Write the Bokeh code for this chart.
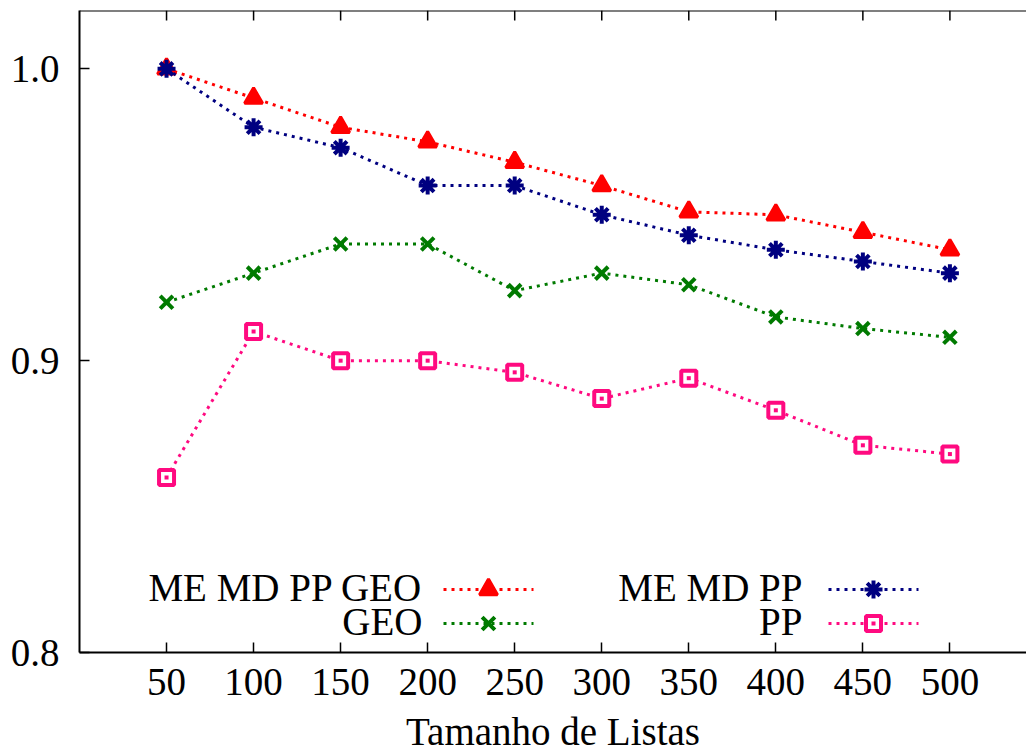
from bokeh.plotting import figure
from bokeh.models import Range1d, LinearAxis, FixedTicker, Label, Span
from bokeh.embed import file_html
from bokeh.resources import INLINE

# ---- data ----
sizes = [50, 100, 150, 200, 250, 300, 350, 400, 450, 500]
me_md_pp_geo = [1.000, 0.990, 0.980, 0.975, 0.968, 0.960, 0.951, 0.950, 0.944, 0.938]
me_md_pp = [1.000, 0.980, 0.973, 0.960, 0.960, 0.950, 0.943, 0.938, 0.934, 0.930]
geo = [0.920, 0.930, 0.940, 0.940, 0.924, 0.930, 0.926, 0.915, 0.911, 0.908]
pp = [0.860, 0.910, 0.900, 0.900, 0.896, 0.887, 0.894, 0.883, 0.871, 0.868]
x_ticks = [50, 100, 150, 200, 250, 300, 350, 400, 450, 500]
y_ticks = [0.8, 0.9, 1.0]
x_label = "Tamanho de Listas"

FONT = "Liberation Serif"
FS = "39px"
XMIN, XMAX = 0, 544
YMIN, YMAX = 0.8, 1.02
FRAME_L, FRAME_T = 79, 10
FRAME_W, FRAME_H = 947, 642

p = figure(width=FRAME_L + FRAME_W, height=745, x_range=Range1d(XMIN, XMAX), y_range=Range1d(YMIN, YMAX),
           output_backend="svg", toolbar_location=None, x_axis_location=None, y_axis_location=None,
           min_border_left=FRAME_L, min_border_right=0, min_border_top=FRAME_T, min_border_bottom=10,
           frame_width=FRAME_W, frame_height=FRAME_H)
p.outline_line_color = None
p.xgrid.visible = False
p.ygrid.visible = False
p.background_fill_color = "white"
p.border_fill_color = "white"


def style(ax):
    ax.axis_line_width = 2
    ax.axis_line_color = "black"
    ax.major_tick_in = 10
    ax.major_tick_out = 0
    ax.minor_tick_in = 0
    ax.minor_tick_out = 0
    ax.major_tick_line_width = 1.5
    ax.major_label_text_font = FONT
    ax.major_label_text_font_size = FS
    ax.major_label_text_color = "black"


left = LinearAxis(ticker=FixedTicker(ticks=y_ticks))
style(left)
left.major_label_standoff = 20
left.major_label_overrides = {0.8: "0.8", 0.9: "0.9", 1.0: "1.0"}
p.add_layout(left, "left")

bottom = LinearAxis(ticker=FixedTicker(ticks=x_ticks), axis_label=x_label)
style(bottom)
bottom.major_label_standoff = 16
bottom.axis_label_text_font = FONT
bottom.axis_label_text_font_size = FS
bottom.axis_label_text_font_style = "normal"
bottom.axis_label_text_color = "black"
bottom.axis_label_standoff = 12
p.add_layout(bottom, "below")

# top border with inward mirror ticks (no labels)
p.add_layout(Span(location=YMAX, dimension="width", line_color="black", line_width=2))
tick_len = 10 / FRAME_H * (YMAX - YMIN)
p.segment(x0=x_ticks, y0=[YMAX] * len(x_ticks), x1=x_ticks, y1=[YMAX - tick_len] * len(x_ticks),
          line_color="black", line_width=1.5)

DASH = "3 5"
series = [
    (me_md_pp_geo, "#ff0000", "triangle", 18, 3, "ME MD PP GEO"),
    (me_md_pp, "#000080", "asterisk", 18, 4, "ME MD PP"),
    (geo, "#007a00", "x", 18, 4, "GEO"),
    (pp, "#ff0a80", "square", 15, 4, "PP"),
]


def draw_markers(xs, ys, col, mk, sz, lw):
    if mk == "square":
        p.scatter(xs, ys, marker=mk, size=sz, line_color=col, line_width=lw, fill_color="white")
        p.scatter(xs, ys, marker="square", size=4, line_color=None, fill_color=col)
    elif mk == "triangle":
        p.scatter(xs, ys, marker=mk, size=sz, line_color=col, line_width=lw, fill_color=col)
    else:
        p.scatter(xs, ys, marker=mk, size=sz, line_color=col, line_width=lw)


for vals, col, mk, sz, lw, name in series:
    p.line(sizes, vals, line_color=col, line_width=3, line_dash=DASH)
    draw_markers(sizes, vals, col, mk, sz, lw)


# ---- legend (gnuplot style: right-aligned text, then sample) ----
def dx(px):
    return XMIN + (px - FRAME_L) / FRAME_W * (XMAX - XMIN)


def dy(py):
    return YMIN + (FRAME_T + FRAME_H - py) / FRAME_H * (YMAX - YMIN)


legend_slots = [
    (0, 422, 443, 533, 589),
    (2, 422, 443, 533, 623),
    (1, 802, 828, 918, 589),
    (3, 802, 828, 918, 623),
]
for idx, tx, l0, l1, ly in legend_slots:
    vals, col, mk, sz, lw, name = series[idx]
    p.add_layout(Label(x=dx(tx), y=dy(ly - 2), text=name, text_align="right",
                       text_baseline="middle", text_font=FONT, text_font_size=FS,
                       text_color="black"))
    p.line([dx(l0), dx(l1)], [dy(ly), dy(ly)], line_color=col, line_width=3, line_dash=DASH)
    draw_markers([dx((l0 + l1) / 2)], [dy(ly)], col, mk, sz, lw)

open("out.html", "w").write(file_html(p, INLINE))
